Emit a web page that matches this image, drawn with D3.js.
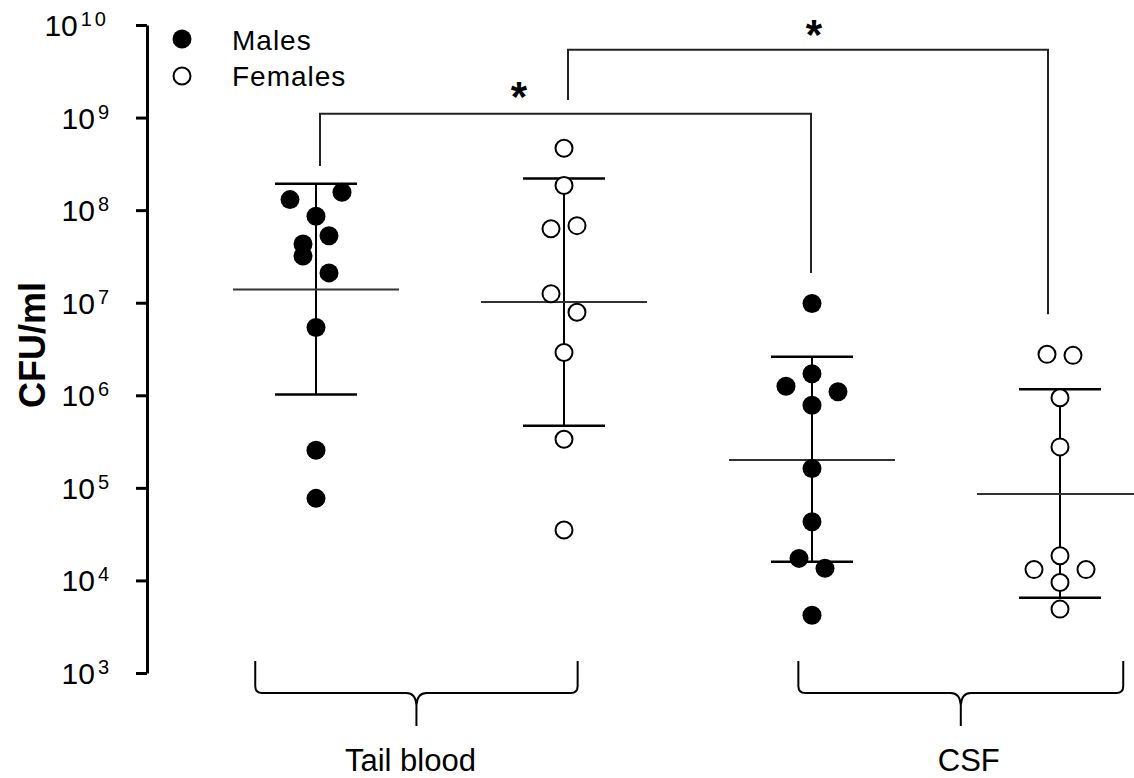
<!DOCTYPE html>
<html>
<head>
<meta charset="utf-8">
<script src="https://cdn.jsdelivr.net/npm/d3@7"></script>
<style>
  body { margin: 0; background: #fff; }
  text { font-family: Arial, "Liberation Sans", sans-serif; fill: #000; }
</style>
</head>
<body>
<svg width="1134" height="778"></svg>
<script>
// ---- data ----
const groups = ["Tail blood M", "Tail blood F", "CSF M", "CSF F"];
const groupSex = ["M", "F", "M", "F"];

// CFU/ml per animal, and the column slot each dot sits in (Prism-style scatter)
const tailMales      = [1.56e8, 1.3e8, 8.6e7, 5.3e7, 4.3e7, 3.2e7, 2.1e7, 5.4e6, 2.55e5, 7.7e4];
const tailMalesSlot  = [2, -2, 0, 1, -1, -1, 1, 0, 0, 0];
const tailFemales     = [4.67e8, 1.85e8, 6.8e7, 6.3e7, 1.25e7, 7.9e6, 2.9e6, 3.35e5, 3.5e4];
const tailFemalesSlot = [0, 0, 1, -1, -1, 1, 0, 0, 0];
const csfMales      = [9.8e6, 1.71e6, 1.25e6, 1.09e6, 7.8e5, 1.62e5, 4.3e4, 1.73e4, 1.35e4, 4.2e3];
const csfMalesSlot  = [0, 0, -2, 2, 0, 0, 0, -1, 1, 0];
const csfFemales     = [2.77e6, 2.7e6, 9.4e5, 2.77e5, 1.85e4, 1.31e4, 1.31e4, 9.5e3, 4.9e3];
const csfFemalesSlot = [-1, 1, 0, 0, 0, -2, 2, 0, 0];

// geometric mean and SD limits per group
const meanVals = [1.39e7, 1.02e7, 2.0e5, 8.6e4];
const sdUpper  = [1.93e8, 2.2e8, 2.6e6, 1.16e6];
const sdLower  = [1.02e6, 4.7e5, 1.59e4, 6.5e3];

const yTicks = [1e3, 1e4, 1e5, 1e6, 1e7, 1e8, 1e9, 1e10];

// significance brackets: from group, to group, bar level, leg ends (CFU/ml)
const sigFrom  = [0, 1];
const sigTo    = [2, 3];
const sigLevel = [1.1e9, 5.4e9];
const sigLegA  = [3.0e8, 1.55e9];
const sigLegB  = [2.1e7, 7.5e6];

// tissue braces
const tissues = ["Tail blood", "CSF"];
const tissueSpan = [[-0.245, 1.055], [1.945, 3.255]];

// ---- layout ----
const svg = d3.select("svg");

const y = d3.scaleLog().domain([1e3, 1e10]).range([673, 25]);
const x = d3.scaleLinear().domain([0, 3]).range([316, 1060]);
const slot = d3.scaleLinear().domain([-2, 2]).range([-26, 26]);

const series = [
  { vals: tailMales, slots: tailMalesSlot },
  { vals: tailFemales, slots: tailFemalesSlot },
  { vals: csfMales, slots: csfMalesSlot },
  { vals: csfFemales, slots: csfFemalesSlot }
];

// y axis
const axisX = 147;
const yAxis = d3.axisLeft(y).tickValues(yTicks).tickSize(11).tickSizeOuter(0).tickFormat("");
const gAxis = svg.append("g").attr("transform", `translate(${axisX},0)`).call(yAxis);
gAxis.select(".domain").attr("stroke", "#000").attr("stroke-width", 3);
gAxis.selectAll(".tick line").attr("stroke", "#000").attr("stroke-width", 3);

// tick labels as 10^n
const lab = svg.append("g").selectAll("text").data(yTicks).enter()
  .append("text")
    .attr("x", 109)
    .attr("y", d => y(d) + 11)
    .attr("text-anchor", "end")
    .attr("font-size", "30px");
lab.append("tspan").text("10");
lab.append("tspan")
    .attr("dx", 3)
    .attr("dy", -10)
    .attr("font-size", "20px")
    .attr("letter-spacing", d => Math.log10(d) >= 10 ? "3px" : "0px")
    .text(d => Math.round(Math.log10(d)));

svg.append("text")
    .attr("transform", "translate(45,345) rotate(-90)")
    .attr("text-anchor", "middle")
    .attr("font-size", "36px")
    .attr("font-weight", "bold")
    .text("CFU/ml");

// mean and SD bars
const bars = svg.append("g").attr("stroke", "#000");
groups.forEach((g, i) => {
  const cx = x(i);
  bars.append("line").attr("x1", cx).attr("x2", cx)
    .attr("y1", y(sdUpper[i])).attr("y2", y(sdLower[i])).attr("stroke-width", 2);
  [sdUpper[i], sdLower[i]].forEach(v => {
    bars.append("line").attr("x1", cx - 41).attr("x2", cx + 41)
      .attr("y1", y(v)).attr("y2", y(v)).attr("stroke-width", 2.5);
  });
  bars.append("line").attr("x1", cx - 83).attr("x2", cx + 83)
    .attr("y1", y(meanVals[i])).attr("y2", y(meanVals[i]))
    .attr("stroke", "#333").attr("stroke-width", 2);
});

// dots
series.forEach((s, i) => {
  const female = groupSex[i] === "F";
  svg.append("g").selectAll("circle")
    .data(s.vals.map((v, k) => ({ v, s: s.slots[k] })))
    .enter()
    .append("circle")
      .attr("cx", d => x(i) + slot(d.s))
      .attr("cy", d => y(d.v))
      .attr("r", female ? 8.5 : 9.5)
      .attr("fill", female ? "#fff" : "#000")
      .attr("stroke", "#000")
      .attr("stroke-width", female ? 2 : 0);
});

// significance brackets
const legNudge = [[4, -1], [4, -12]];
sigFrom.forEach((a, i) => {
  const xa = x(a) + legNudge[i][0], xb = x(sigTo[i]) + legNudge[i][1];
  const yl = y(sigLevel[i]);
  svg.append("path")
    .attr("d", `M${xa},${y(sigLegA[i])}V${yl}H${xb}V${y(sigLegB[i])}`)
    .attr("fill", "none").attr("stroke", "#222").attr("stroke-width", 2);
});
svg.append("text").attr("x", 519).attr("y", 111).attr("text-anchor", "middle")
  .attr("font-size", "42px").attr("font-weight", "bold").text("*");
svg.append("text").attr("x", 814).attr("y", 49).attr("text-anchor", "middle")
  .attr("font-size", "42px").attr("font-weight", "bold").text("*");

// braces under the two tissues
function brace(x0, x1, yTop, yMid, yBot) {
  const xt = (x0 + x1) / 2, r = 7;
  return `M${x0},${yTop}V${yMid - r}Q${x0},${yMid} ${x0 + r},${yMid}` +
    `H${xt - 10}Q${xt - 1},${yMid} ${xt},${yMid + 12}V${yBot}` +
    `M${xt},${yMid + 12}Q${xt + 1},${yMid} ${xt + 10},${yMid}` +
    `H${x1 - r}Q${x1},${yMid} ${x1},${yMid - r}V${yTop}`;
}
const labelNudge = [-6, 8];
tissues.forEach((t, i) => {
  const x0 = x(tissueSpan[i][0]), x1 = x(tissueSpan[i][1]);
  svg.append("path").attr("d", brace(x0, x1, 661, 693, 726))
    .attr("fill", "none").attr("stroke", "#000").attr("stroke-width", 2);
  svg.append("text").attr("x", (x0 + x1) / 2 + labelNudge[i]).attr("y", 771)
    .attr("text-anchor", "middle").attr("font-size", "31px").text(t);
});

// legend
const legend = svg.append("g");
legend.append("circle").attr("cx", 182).attr("cy", 39).attr("r", 9.5).attr("fill", "#000");
legend.append("circle").attr("cx", 182).attr("cy", 76).attr("r", 8.5)
  .attr("fill", "#fff").attr("stroke", "#000").attr("stroke-width", 2);
legend.append("text").attr("x", 232).attr("y", 50).attr("font-size", "28px")
  .attr("letter-spacing", "1px").text("Males");
legend.append("text").attr("x", 232).attr("y", 86).attr("font-size", "28px")
  .attr("letter-spacing", "1px").text("Females");
</script>
</body>
</html>
